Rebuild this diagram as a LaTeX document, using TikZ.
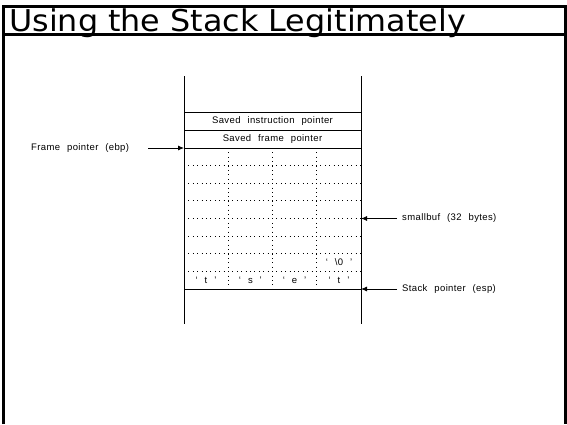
\documentclass[tikz,border=0pt]{standalone}
\usepackage{fontspec}
\setmainfont{Liberation Sans}[WordSpace=2.3, LetterSpace=4]
\newfontfamily\titlefont{DejaVu Sans}[FakeStretch=1.06]
\usetikzlibrary{arrows.meta,positioning}

\begin{document}
\begin{tikzpicture}[x=1pt,y=-1pt,
      every node/.style = {font=\fontsize{9.5}{11}\selectfont, inner sep=1pt},
      wall/.style = {line width=0.8pt},
      grid/.style = {line width=0.9pt, dash pattern=on 0.9pt off 3.5pt},
      ptr/.style = {line width=0.8pt, -{Latex[length=6pt,width=5pt]}}]
  \useasboundingbox (0,0) rectangle (567,424);
  % frame and title
  \draw[line width=3pt] (3.5,424) -- (3.5,6) -- (565,6) -- (565,424);
  \draw[line width=3pt] (3.5,34) -- (565,34);
  \node[anchor=base west, inner sep=0pt, font=\titlefont\fontsize{30}{31}\selectfont] (title) at (9,31.5) {Using the Stack Legitimately};
  % stack walls
  \coordinate (topL) at (184,76);
  \coordinate (topR) at (361,76);
  \coordinate (botL) at (184,324);
  \coordinate (botR) at (361,324);
  \draw[wall] (topL) -- (botL);
  \draw[wall] (topR) -- (botR);
  \foreach \y/\n in {112/sip, 130/sfp, 148/fr, 289/sp}
    \draw[wall] (184,\y) coordinate (\n L) -- (361,\y) coordinate (\n R);
  % the 32 byte buffer
  \foreach \k in {1,...,7}
    \draw[grid] (184,148+\k*17.625) -- (361,148+\k*17.625);
  \foreach \x in {228.25,272.5,316.75}
    \draw[grid] (\x,148) -- (\x,289);
  \node (sipT) at (272.5,121) {Saved instruction pointer};
  \node (sfpT) at (272.5,139) {Saved frame pointer};
  \node (c1) at (206,280) {` t '};
  \node (c2) at (250.4,280) {` s '};
  \node (c3) at (294.6,280) {` e '};
  \node (c4) at (339,280) {` t '};
  \node (c5) at (339,262) {` \textbackslash 0 '};
  % pointers
  \node[anchor=west] (fp) at (30,148) {Frame pointer (ebp)};
  \coordinate (fpTail) at (148,148);
  \draw[ptr] (fpTail) -- (frL);
  \node[anchor=west] (buf) at (401,218.5) {smallbuf (32 bytes)};
  \coordinate (bufTail) at (397,218.5);
  \coordinate (bufTip) at (361,218.5);
  \draw[ptr] (bufTail) -- (bufTip);
  \node[anchor=west] (esp) at (401,289) {Stack pointer (esp)};
  \coordinate (espTail) at (397,289);
  \draw[ptr] (espTail) -- (spR);
\end{tikzpicture}
\end{document}
